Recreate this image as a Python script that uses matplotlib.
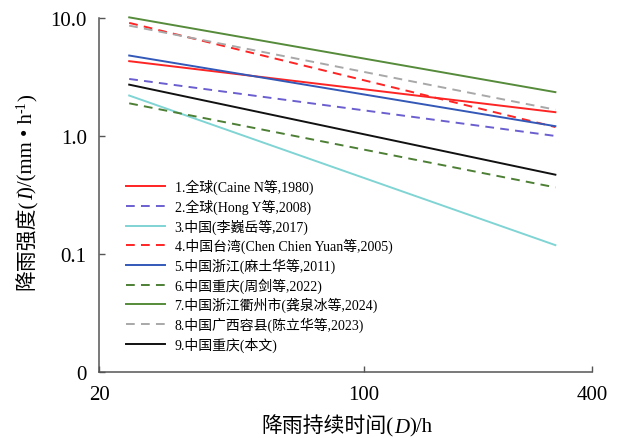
import matplotlib
matplotlib.use("Agg")
import matplotlib.pyplot as plt
from matplotlib.font_manager import FontProperties

SERIF_CJK = ["Liberation Serif", "Noto Sans CJK SC", "DejaVu Serif"]

# duration range of every relation (h)
duration = [24, 320]

labels = [
    "1.全球(Caine N等,1980)",
    "2.全球(Hong Y等,2008)",
    "3.中国(李巍岳等,2017)",
    "4.中国台湾(Chen Chien Yuan等,2005)",
    "5.中国浙江(麻土华等,2011)",
    "6.中国重庆(周剑等,2022)",
    "7.中国浙江衢州市(龚泉冰等,2024)",
    "8.中国广西容县(陈立华等,2023)",
    "9.中国重庆(本文)",
]
# intensity (mm/h) at the start and end of the duration range
i_start = [4.3, 3.04, 2.2, 9.07, 4.8, 1.89, 10.1, 8.6, 2.72]
i_end = [1.59, 1.0, 0.119, 1.19, 1.21, 0.367, 2.35, 1.67, 0.47]

colors = ["#ff2424", "#6b5fd0", "#80d4d4", "#ff2424", "#3358b8",
          "#4d7f35", "#558b3a", "#a8a8a8", "#111111"]
dashed = [False, True, False, True, False, True, False, True, False]

xticks = [20, 100, 400]
yticks = [0.01, 0.1, 1, 10]
ytick_labels = ["0", "0.1", "1.0", "10.0"]


def main():
    fig = plt.figure(figsize=(6.2, 4.39), dpi=100)
    ax = fig.add_axes([0.160, 0.150, 0.795, 0.807])

    for lab, s, e, c, d in zip(labels, i_start, i_end, colors, dashed):
        line, = ax.plot(duration, [s, e], color=c, lw=1.4, label=lab, clip_on=False)
        if d:
            line.set_dashes((4.5, 3.2))

    ax.set_xscale("log")
    ax.set_yscale("log")
    ax.set_xlim(20, 400)
    ax.set_ylim(0.01, 10)
    ax.set_xticks(xticks, [str(t) for t in xticks])
    ax.set_yticks(yticks, ytick_labels)
    ax.minorticks_off()
    ax.tick_params(direction="in", length=4, width=1, color="#555555", pad=9)
    for lab in ax.get_xticklabels() + ax.get_yticklabels():
        lab.set_fontfamily("Liberation Serif")
        lab.set_fontsize(15)
    ax.spines["top"].set_visible(False)
    ax.spines["right"].set_visible(False)
    for sp in ["left", "bottom"]:
        ax.spines[sp].set_color("#555555")
        ax.spines[sp].set_linewidth(1.1)

    ax.legend(loc="upper left", bbox_to_anchor=(126 / 620, 1 - 180 / 439),
              bbox_transform=fig.transFigure, frameon=False,
              prop=FontProperties(family=SERIF_CJK, size=10),
              handlelength=2.8, handletextpad=0.7, labelspacing=0.31,
              borderpad=0, borderaxespad=0)

    # x label, italic D
    big = 15
    prev = fig.text(0.422, 0.014, "降雨持续时间(", family=SERIF_CJK, size=big,
                    ha="left", va="baseline")
    for txt, st in [("D", "italic"), (")/h", "normal")]:
        prev = ax.annotate(txt, xy=(1, 0.014), xycoords=(prev, "figure fraction"),
                           family=SERIF_CJK, size=big, style=st,
                           ha="left", va="baseline", annotation_clip=False)

    # y label, italic I and superscript
    x0 = 0.053
    prev = fig.text(x0, 0.339, "降雨强度(", family=SERIF_CJK, size=big,
                    rotation=90, rotation_mode="anchor", ha="left", va="baseline")
    parts = [("I", "italic", big, 0), (")/(mm • h", "normal", big, 0),
             ("-1", "normal", 10, -0.012), (")", "normal", big, 0)]
    for txt, st, sz, dx in parts:
        prev = ax.annotate(txt, xy=(x0 + dx, 1), xycoords=("figure fraction", prev),
                           family=SERIF_CJK, size=sz, style=st, rotation=90,
                           rotation_mode="anchor", ha="left", va="baseline",
                           annotation_clip=False)

    fig.savefig("out.png", dpi=100)


if __name__ == "__main__":
    main()
